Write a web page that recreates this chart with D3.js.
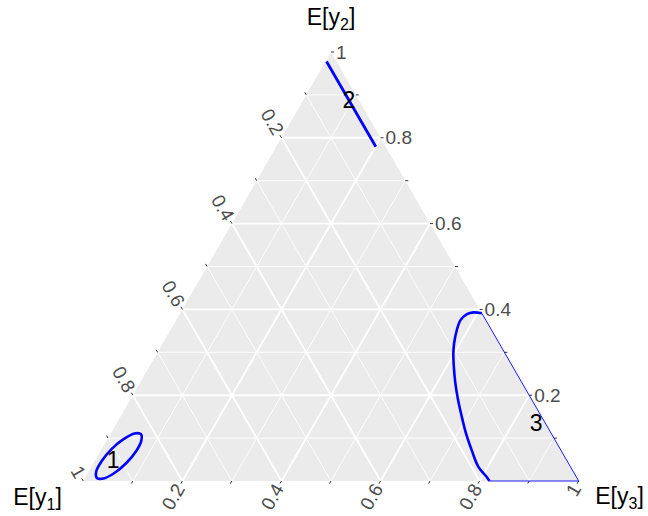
<!DOCTYPE html>
<html>
<head>
<meta charset="utf-8">
<script src="https://cdn.jsdelivr.net/npm/d3@7"></script>
<style>
  html, body { margin: 0; padding: 0; background: #fff; }
  svg { display: block; font-family: "Liberation Sans", Arial, sans-serif; }
</style>
</head>
<body>
<svg id="chart" width="648" height="516"></svg>
<script>
// ---------------- DATA ----------------
const gridMinor = [0.1, 0.3, 0.5, 0.7, 0.9];
const gridMajor = [0.2, 0.4, 0.6, 0.8];
const tickValues = [0.1, 0.2, 0.3, 0.4, 0.5, 0.6, 0.7, 0.8, 0.9, 1.0];
const labelValues = [0.2, 0.4, 0.6, 0.8, 1.0];
const labelTexts = ["0.2", "0.4", "0.6", "0.8", "1"];

// Region 1 (closed contour near E[y1] vertex)
const r1Y1 = [0.829, 0.835, 0.859, 0.893, 0.928, 0.956, 0.969, 0.962, 0.939, 0.905, 0.869, 0.842];
const r1Y2 = [0.109, 0.094, 0.070, 0.042, 0.018, 0.006, 0.007, 0.022, 0.047, 0.075, 0.098, 0.111];
const r1Y3 = [0.062, 0.070, 0.072, 0.066, 0.053, 0.038, 0.024, 0.015, 0.014, 0.020, 0.033, 0.048];

// Region 2 (thin contour near E[y2] vertex)
const r2Y1 = [0.020, 0.020, 0.020];
const r2Y2 = [0.978, 0.880, 0.779];
const r2Y3 = [0.002, 0.100, 0.201];

// Region 3 (contour near E[y3] vertex, clipped by triangle edges)
const r3Y1 = [0.000, 0.016, 0.031, 0.051, 0.070, 0.091, 0.104, 0.119, 0.135, 0.149, 0.161, 0.172, 0.180, 0.186, 0.181, 0.180];
const r3Y2 = [0.391, 0.393, 0.389, 0.375, 0.352, 0.321, 0.298, 0.266, 0.228, 0.189, 0.150, 0.111, 0.072, 0.033, 0.010, 0.000];
const r3Y3 = [0.609, 0.591, 0.580, 0.574, 0.578, 0.588, 0.598, 0.615, 0.637, 0.662, 0.689, 0.717, 0.748, 0.781, 0.809, 0.820];
// clipped edge part: bottom end -> E[y3] vertex -> top end
const r3EdgeY1 = [0.180, 0.000, 0.000];
const r3EdgeY2 = [0.000, 0.000, 0.391];
const r3EdgeY3 = [0.820, 1.000, 0.609];

// Region labels
const regionLabels = ["1", "2", "3"];
const regionLabY1 = [0.915, 0.020, 0.018];
const regionLabY2 = [0.049, 0.888, 0.136];
const regionLabY3 = [0.036, 0.092, 0.846];

// ---------------- SCALES ----------------
const svg = d3.select("#chart");
const xScale = d3.scaleLinear().domain([0, 1]).range([83.3, 578.7]); // applied to y3 + y2/2
const yScale = d3.scaleLinear().domain([0, 1]).range([481, 52]);     // applied to y2

function pt(a, b, c) {
  const s = a + b + c;
  const bb = b / s, cc = c / s;
  return [xScale(cc + bb / 2), yScale(bb)];
}
function zip(A, B, C) { return A.map((a, i) => [a, B[i], C[i]]); }

const BLUE = "#0000FF";

// background triangle
const verts = [pt(1, 0, 0), pt(0, 1, 0), pt(0, 0, 1)];
svg.append("polygon")
  .attr("points", verts.map(p => p.join(",")).join(" "))
  .attr("fill", "#EBEBEB");

// grid lines
function gridSegs(v) {
  return [
    [pt(1 - v, v, 0), pt(0, v, 1 - v)],   // y2 = v
    [pt(v, 1 - v, 0), pt(v, 0, 1 - v)],   // y1 = v
    [pt(0, 1 - v, v), pt(1 - v, 0, v)]    // y3 = v
  ];
}
const gMinor = svg.append("g");
gridMinor.forEach(v => gridSegs(v).forEach(s => {
  gMinor.append("line")
    .attr("x1", s[0][0]).attr("y1", s[0][1]).attr("x2", s[1][0]).attr("y2", s[1][1])
    .attr("stroke", "#fff").attr("stroke-width", 0.9);
}));
const gMajor = svg.append("g");
gridMajor.forEach(v => gridSegs(v).forEach(s => {
  gMajor.append("line")
    .attr("x1", s[0][0]).attr("y1", s[0][1]).attr("x2", s[1][0]).attr("y2", s[1][1])
    .attr("stroke", "#fff").attr("stroke-width", 1.9);
}));

// ticks
const tickLen = 3;
const dirLeft = [-0.5, -0.866], dirBottom = [-0.5, 0.866], dirRight = [1, 0];
const gTicks = svg.append("g").attr("stroke", "#333").attr("stroke-width", 1);
tickValues.forEach(v => {
  const pl = pt(v, 1 - v, 0);   // y1 axis on left edge
  const pb = pt(1 - v, 0, v);   // y3 axis on bottom edge
  const pr = pt(0, v, 1 - v);   // y2 axis on right edge
  [[pl, dirLeft], [pb, dirBottom], [pr, dirRight]].forEach(([p, d]) => {
    gTicks.append("line")
      .attr("x1", p[0]).attr("y1", p[1])
      .attr("x2", p[0] + d[0] * tickLen).attr("y2", p[1] + d[1] * tickLen);
  });
});

// tick labels
const labOff = 5;
const gLab = svg.append("g").attr("fill", "#4D4D4D").style("font-size", "19px");
labelValues.forEach((v, i) => {
  const pl = pt(v, 1 - v, 0);
  gLab.append("text")
    .attr("transform", `translate(${pl[0] + dirLeft[0] * labOff},${pl[1] + dirLeft[1] * labOff}) rotate(60)`)
    .attr("text-anchor", "end").attr("dominant-baseline", "central")
    .text(labelTexts[i]);
  const pb = pt(1 - v, 0, v);
  gLab.append("text")
    .attr("transform", `translate(${pb[0] + dirBottom[0] * labOff},${pb[1] + dirBottom[1] * labOff}) rotate(-60)`)
    .attr("text-anchor", "end").attr("dominant-baseline", "central")
    .text(labelTexts[i]);
  const pr = pt(0, v, 1 - v);
  gLab.append("text")
    .attr("x", pr[0] + labOff).attr("y", pr[1])
    .attr("text-anchor", "start").attr("dominant-baseline", "central")
    .text(labelTexts[i]);
});

// regions
const lineClosed = d3.line().x(d => pt(...d)[0]).y(d => pt(...d)[1]).curve(d3.curveCatmullRomClosed);
const lineOpen = d3.line().x(d => pt(...d)[0]).y(d => pt(...d)[1]).curve(d3.curveCatmullRom);
const lineLin = d3.line().x(d => pt(...d)[0]).y(d => pt(...d)[1]);

svg.append("path").attr("d", lineClosed(zip(r1Y1, r1Y2, r1Y3)))
  .attr("fill", "none").attr("stroke", BLUE).attr("stroke-width", 2.6);
svg.append("path").attr("d", lineOpen(zip(r2Y1, r2Y2, r2Y3)))
  .attr("fill", "none").attr("stroke", BLUE).attr("stroke-width", 2.8);
svg.append("path").attr("d", lineLin(zip(r3EdgeY1, r3EdgeY2, r3EdgeY3)))
  .attr("fill", "none").attr("stroke", BLUE).attr("stroke-width", 0.9);
svg.append("path").attr("d", lineOpen(zip(r3Y1, r3Y2, r3Y3)))
  .attr("fill", "none").attr("stroke", BLUE).attr("stroke-width", 2.6);

// region labels
regionLabels.forEach((t, i) => {
  const p = pt(regionLabY1[i], regionLabY2[i], regionLabY3[i]);
  svg.append("text").attr("x", p[0]).attr("y", p[1])
    .attr("text-anchor", "middle").attr("dominant-baseline", "central")
    .style("font-size", "23px").attr("fill", "#000").text(t);
});

// axis titles
function title(x, y, sub) {
  const t = svg.append("text").attr("x", x).attr("y", y)
    .attr("text-anchor", "middle").style("font-size", "23px").attr("fill", "#000");
  t.append("tspan").text("E[y");
  t.append("tspan").attr("dy", 5).style("font-size", "16px").text(sub);
  t.append("tspan").attr("dy", -5).text("]");
}
title(37.5, 505, "1");
title(331, 25, "2");
title(619.5, 504, "3");
</script>
</body>
</html>
